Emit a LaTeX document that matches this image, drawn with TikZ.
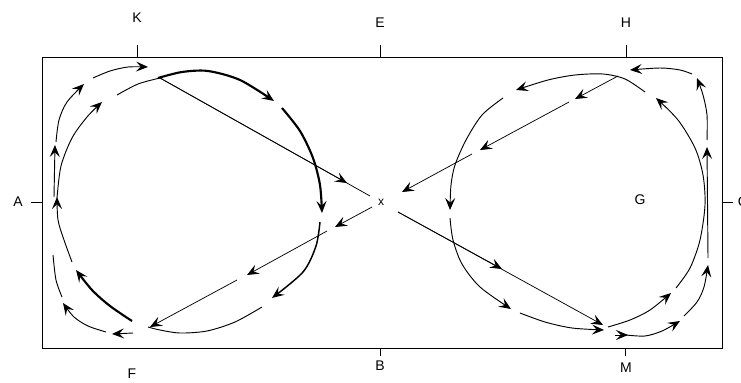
\documentclass[tikz,border=0pt]{standalone}
\usepackage{fontspec}
\setmainfont{Liberation Sans}
\usetikzlibrary{arrows.meta}
\begin{document}
\begin{tikzpicture}[x=0.75pt,y=-0.75pt,
  >={Stealth[length=9pt,width=7.5pt,inset=3.6pt]},
  frame/.style={line width=0.7pt},
  thinflow/.style={line width=0.7pt},
  midflow/.style={line width=1.1pt},
  thickflow/.style={line width=1.6pt},
  diag/.style={line width=0.55pt},
  lbl/.style={font=\fontsize{10.5}{12}\selectfont, inner sep=0pt}]
\useasboundingbox (0,0) rectangle (741,382);

% frame and ticks
\draw[frame] (42,57) rectangle (722,348);
\coordinate (kt) at (137,57); \coordinate (et) at (380,57); \coordinate (ht) at (626,57);
\coordinate (at) at (42,202); \coordinate (ct) at (722,202);
\coordinate (bt) at (380,348); \coordinate (mt) at (625,348);
\draw[frame] (kt) -- ++(0,-12);
\draw[frame] (et) -- ++(0,-12);
\draw[frame] (ht) -- ++(0,-12);
\draw[frame] (at) -- ++(-11,0);
\draw[frame] (ct) -- ++(11,0);
\draw[frame] (bt) -- ++(0,8);
\draw[frame] (mt) -- ++(0,8);

% labels
\node[lbl] (K) at (137,18) {K};
\node[lbl] (E) at (380,23) {E};
\node[lbl] (H) at (626,23) {H};
\node[lbl] (A) at (18,202) {A};
\node[lbl] (C) at (743,202) {C};
\node[lbl] (B) at (380,366) {B};
\node[lbl] (M) at (626,368) {M};
\node[lbl] (F) at (132,374) {F};
\node[lbl] (G) at (640,200) {G};
\node[font=\fontsize{9}{9}\selectfont, inner sep=0pt] (X) at (381,202) {x};

% ---- left loop (clockwise)
\draw[thinflow,->] plot[smooth] coordinates {(57,198) (61,166) (72,138) (87,117) (102,102)};
\draw[thinflow] plot[smooth] coordinates {(117,95) (138,84) (160,78)};
\draw[thickflow,->] plot[smooth] coordinates {(158,78) (182,72) (208,71) (240,80) (274,101)};
\draw[thickflow,->] plot[smooth] coordinates {(282,108) (300,131) (313,158) (320,185) (322,213)};
\draw[midflow,->] plot[smooth] coordinates {(320,222) (316,246) (303,272) (272,298)};
\draw[thinflow] plot[smooth] coordinates {(262,307) (235,322) (207,331) (180,333) (160,330) (148,327)};
\draw[thickflow,->] plot[smooth] coordinates {(132,321) (110,306) (92,290) (76,270)};
\draw[thinflow,->] plot[smooth] coordinates {(72,262) (64,240) (58,220) (57,197)};

% ---- left outer path
\draw[thinflow,->] (133,333) -- (112,334);
\draw[thinflow,->] plot[smooth] coordinates {(106,332) (88,326) (74,317) (63,303)};
\draw[thinflow] plot[smooth] coordinates {(62,297) (56,280) (53,255)};
\draw[thinflow,->] (54,197) -- (55,145);
\draw[thinflow,->] plot[smooth] coordinates {(56,142) (59,120) (67,102) (84,84)};
\draw[thinflow,->] plot[smooth] coordinates {(93,78) (110,71) (128,67) (148,67)};

% ---- right loop (counter-clockwise)
\draw[thinflow,->] plot[smooth] coordinates {(608,327) (630,320) (650,310) (671,293)};
\draw[thinflow,->] plot[smooth] coordinates {(676,288) (690,268) (700,240) (705,205) (703,175) (695,148) (678,120) (656,98)};
\draw[thinflow,->] plot[smooth] coordinates {(645,92) (625,79) (603,74) (575,75) (548,80) (516,90)};
\draw[thinflow,->] plot[smooth] coordinates {(503,98) (482,115) (466,140) (455,165) (451,185) (450,210)};
\draw[thinflow,->] plot[smooth] coordinates {(450,218) (453,240) (462,264) (480,287) (511,309)};
\draw[thinflow,->] plot[smooth] coordinates {(520,313) (545,322) (572,328) (604,330)};

% ---- right outer path
\draw[thinflow,->] (615,335) -- (628,335);
\draw[thinflow,->] plot[smooth] coordinates {(626,335) (645,336) (662,331) (680,321)};
\draw[thinflow,->] plot[smooth] coordinates {(684,316) (697,302) (704,287) (708,265)};
\draw[thinflow,->] (708,258) -- (707,147);
\draw[thinflow,->] plot[smooth] coordinates {(707,140) (707,115) (703,95) (697,78)};
\draw[thinflow,->] plot[smooth] coordinates {(692,74) (680,70) (660,68) (630,70)};

% ---- diagonals through X
\coordinate (d1s) at (160,78);  \coordinate (d1a) at (347,183); \coordinate (d1e) at (370,196);
\draw[diag] (d1s) -- (d1e);
\draw[diag,->] (d1s) -- (d1a);

\coordinate (d2s) at (372,207);
\draw[diag,->] (d2s) -- (335,227);
\draw[diag,->] (327,231) -- (247,275);
\draw[diag,->] (237,280) -- (150,327);

\coordinate (d3s) at (618,76);
\draw[diag,->] (d3s) -- (575,99);
\draw[diag,->] (569,102) -- (480,150);
\draw[diag,->] (472,154) -- (402,192);

\coordinate (d4s) at (398,212); \coordinate (d4a) at (502,269); \coordinate (d4e) at (603,325);
\draw[diag,->] (d4s) -- (d4a);
\draw[diag,->] (d4s) -- (d4e);
\end{tikzpicture}
\end{document}
